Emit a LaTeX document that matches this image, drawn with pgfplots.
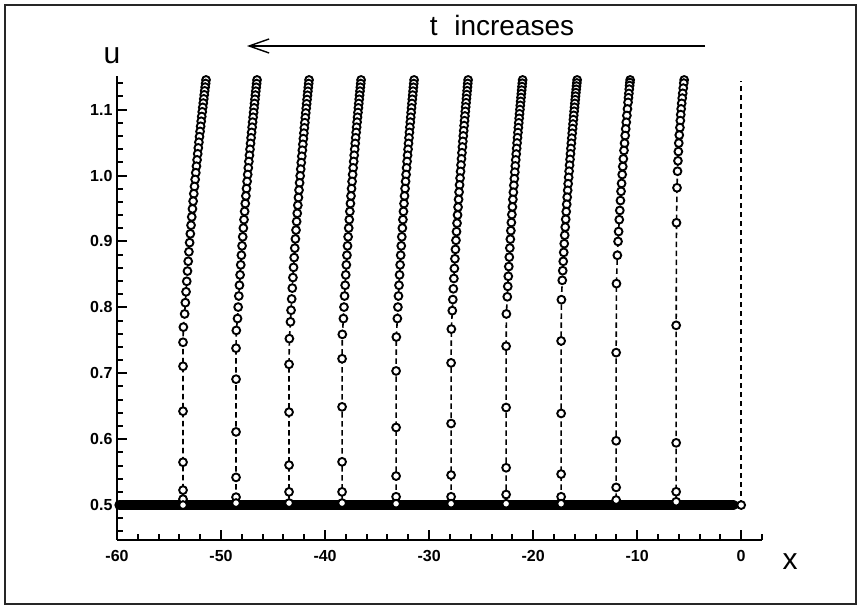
\documentclass[border=0pt]{standalone}
\usepackage{fontspec}
\setmainfont{Liberation Sans}
\usepackage{pgfplots}
\pgfplotsset{compat=1.18}
\usetikzlibrary{arrows.meta}
\pgfplotsset{crv/.style={black, line width=1.6pt, dash pattern=on 5.5pt off 3.5pt,
     mark=*, mark size=3.9pt, mark options={solid, fill=white, draw=black, line width=1.9pt}}}
\begin{document}
\begin{tikzpicture}
\path[use as bounding box] (0pt,0pt) rectangle (860pt,607pt);
\draw[line width=1.4pt, black!85] (5pt,3pt) rectangle (856pt,602pt);
\begin{axis}[
  at={(117pt,67pt)}, anchor=south west,
  scale only axis, width=645pt, height=464pt,
  xmin=-60, xmax=2, ymin=0.447, ymax=1.151,
  clip=false,
  axis x line=bottom, axis y line=left,
  axis line style={line width=2.6pt, -},
  xtick pos=bottom, ytick pos=left,
  xtick align=inside, ytick align=inside,
  major tick length=10pt, minor tick length=5.5pt,
  every tick/.style={black, line width=2pt},
  xtick={-60,-50,-40,-30,-20,-10,0},
  xticklabels={-60,-50,-40,-30,-20,-10,0},
  minor xtick={-58,-56,-54,-52,-48,-46,-44,-42,-38,-36,-34,-32,-28,-26,-24,-22,-18,-16,-14,-12,-8,-6,-4,-2,2},
  ytick={0.5,0.6,0.7,0.8,0.9,1.0,1.1},
  yticklabels={0.5,0.6,0.7,0.8,0.9,1.0,1.1},
  minor ytick={0.46,0.48,0.52,0.54,0.56,0.58,0.62,0.64,0.66,0.68,0.72,0.74,0.76,0.78,0.82,0.84,0.86,0.88,0.92,0.94,0.96,0.98,1.02,1.04,1.06,1.08,1.12,1.14},
  /pgf/number format/assume math mode=true,
  ticklabel style={font=\fontsize{16}{16}\selectfont\bfseries},
  xticklabel style={yshift=-7pt},
  yticklabel style={xshift=-1pt},
]
% band along u = 0.5
\addplot[black, solid, line width=9.5pt, line cap=round, mark=none] coordinates {(-59.8,0.5) (-0.7,0.5)};
% curve 1
\addplot[crv] coordinates {(-51.442,1.145) (-51.483,1.1396) (-51.526,1.1341) (-51.570,1.1284) (-51.614,1.1224) (-51.660,1.1163) (-51.707,1.1099) (-51.756,1.1034) (-51.805,1.0966) (-51.856,1.0895) (-51.907,1.0823) (-51.960,1.0747) (-52.014,1.0669) (-52.070,1.0589) (-52.126,1.0505) (-52.184,1.0419) (-52.242,1.0329) (-52.302,1.0237) (-52.363,1.0141) (-52.425,1.0042) (-52.488,0.9940) (-52.551,0.9834) (-52.616,0.9724) (-52.682,0.9611) (-52.748,0.9494) (-52.815,0.9372) (-52.883,0.9246) (-52.951,0.9116) (-53.020,0.8982) (-53.088,0.8843) (-53.157,0.8699) (-53.226,0.8550) (-53.295,0.8395) (-53.363,0.8236) (-53.431,0.8071) (-53.497,0.7900) (-53.62,0.770) (-53.654,0.747) (-53.654,0.7106) (-53.654,0.6424) (-53.654,0.565) (-53.654,0.5227) (-53.654,0.509) (-53.654,0.500)};
% curve 2
\addplot[crv] coordinates {(-46.539,1.145) (-46.577,1.1395) (-46.616,1.1339) (-46.656,1.1280) (-46.696,1.1220) (-46.738,1.1157) (-46.781,1.1093) (-46.825,1.1026) (-46.870,1.0956) (-46.916,1.0884) (-46.964,1.0810) (-47.012,1.0733) (-47.061,1.0654) (-47.112,1.0572) (-47.163,1.0487) (-47.216,1.0398) (-47.269,1.0307) (-47.324,1.0213) (-47.379,1.0116) (-47.436,1.0015) (-47.493,0.9910) (-47.552,0.9802) (-47.611,0.9690) (-47.671,0.9575) (-47.731,0.9455) (-47.792,0.9331) (-47.854,0.9203) (-47.916,0.9070) (-47.979,0.8933) (-48.042,0.8791) (-48.105,0.8644) (-48.167,0.8492) (-48.230,0.8335) (-48.292,0.8172) (-48.354,0.8004) (-48.415,0.7830) (-48.53,0.765) (-48.558,0.738) (-48.558,0.691) (-48.558,0.611) (-48.558,0.542) (-48.558,0.512) (-48.558,0.503)};
% curve 3
\addplot[crv] coordinates {(-41.539,1.145) (-41.575,1.1395) (-41.612,1.1337) (-41.650,1.1278) (-41.689,1.1217) (-41.729,1.1153) (-41.770,1.1088) (-41.812,1.1020) (-41.855,1.0949) (-41.899,1.0877) (-41.944,1.0801) (-41.990,1.0723) (-42.037,1.0643) (-42.085,1.0559) (-42.134,1.0473) (-42.184,1.0384) (-42.235,1.0292) (-42.287,1.0196) (-42.340,1.0097) (-42.393,0.9995) (-42.448,0.9889) (-42.504,0.9779) (-42.560,0.9666) (-42.617,0.9549) (-42.675,0.9427) (-42.733,0.9302) (-42.792,0.9172) (-42.851,0.9038) (-42.910,0.8898) (-42.970,0.8755) (-43.030,0.8606) (-43.090,0.8452) (-43.150,0.8292) (-43.209,0.8127) (-43.268,0.7956) (-43.326,0.7780) (-43.43,0.7525) (-43.462,0.7136) (-43.462,0.641) (-43.462,0.5606) (-43.462,0.520) (-43.462,0.503)};
% curve 4
\addplot[crv] coordinates {(-36.538,1.145) (-36.572,1.1395) (-36.607,1.1339) (-36.643,1.1280) (-36.680,1.1220) (-36.718,1.1157) (-36.757,1.1093) (-36.797,1.1026) (-36.838,1.0956) (-36.880,1.0884) (-36.922,1.0810) (-36.966,1.0733) (-37.011,1.0654) (-37.056,1.0572) (-37.103,1.0487) (-37.150,1.0398) (-37.199,1.0307) (-37.248,1.0213) (-37.299,1.0116) (-37.350,1.0015) (-37.402,0.9910) (-37.454,0.9802) (-37.508,0.9690) (-37.562,0.9575) (-37.617,0.9455) (-37.672,0.9331) (-37.728,0.9203) (-37.784,0.9070) (-37.841,0.8933) (-37.898,0.8791) (-37.955,0.8644) (-38.012,0.8492) (-38.068,0.8335) (-38.125,0.8172) (-38.181,0.8004) (-38.236,0.7830) (-38.34,0.759) (-38.365,0.722) (-38.365,0.649) (-38.365,0.5656) (-38.365,0.520) (-38.365,0.503)};
% curve 5
\addplot[crv] coordinates {(-31.442,1.145) (-31.474,1.1395) (-31.508,1.1339) (-31.542,1.1280) (-31.577,1.1220) (-31.613,1.1157) (-31.650,1.1093) (-31.687,1.1026) (-31.726,1.0956) (-31.766,1.0884) (-31.806,1.0810) (-31.848,1.0733) (-31.890,1.0654) (-31.933,1.0572) (-31.977,1.0487) (-32.022,1.0398) (-32.068,1.0307) (-32.115,1.0213) (-32.163,1.0116) (-32.211,1.0015) (-32.260,0.9910) (-32.310,0.9802) (-32.361,0.9690) (-32.412,0.9575) (-32.464,0.9455) (-32.517,0.9331) (-32.570,0.9203) (-32.623,0.9070) (-32.676,0.8933) (-32.730,0.8791) (-32.784,0.8644) (-32.838,0.8492) (-32.892,0.8335) (-32.945,0.8172) (-32.998,0.8004) (-33.050,0.7830) (-33.15,0.755) (-33.173,0.7035) (-33.173,0.6177) (-33.173,0.544) (-33.173,0.5126) (-33.173,0.502)};
% curve 6
\addplot[crv] coordinates {(-26.250,1.145) (-26.281,1.1397) (-26.312,1.1343) (-26.344,1.1286) (-26.377,1.1228) (-26.411,1.1167) (-26.446,1.1104) (-26.482,1.1040) (-26.518,1.0973) (-26.556,1.0903) (-26.594,1.0831) (-26.633,1.0757) (-26.673,1.0680) (-26.714,1.0601) (-26.756,1.0518) (-26.798,1.0433) (-26.842,1.0345) (-26.886,1.0254) (-26.931,1.0160) (-26.976,1.0062) (-27.023,0.9961) (-27.070,0.9857) (-27.118,0.9749) (-27.166,0.9637) (-27.215,0.9521) (-27.265,0.9401) (-27.315,0.9277) (-27.365,0.9149) (-27.416,0.9017) (-27.467,0.8879) (-27.518,0.8737) (-27.569,0.8590) (-27.619,0.8438) (-27.670,0.8281) (-27.720,0.8118) (-27.769,0.7950) (-27.86,0.767) (-27.885,0.7157) (-27.885,0.6237) (-27.885,0.5455) (-27.885,0.5126) (-27.885,0.502)};
% curve 7
\addplot[crv] coordinates {(-21.009,1.145) (-21.039,1.1400) (-21.069,1.1349) (-21.101,1.1296) (-21.133,1.1241) (-21.166,1.1184) (-21.199,1.1125) (-21.234,1.1064) (-21.269,1.1001) (-21.306,1.0936) (-21.343,1.0868) (-21.381,1.0799) (-21.420,1.0726) (-21.459,1.0652) (-21.500,1.0574) (-21.541,1.0494) (-21.583,1.0411) (-21.626,1.0326) (-21.670,1.0237) (-21.714,1.0145) (-21.759,1.0051) (-21.805,0.9952) (-21.851,0.9851) (-21.899,0.9746) (-21.946,0.9637) (-21.994,0.9524) (-22.043,0.9408) (-22.092,0.9287) (-22.141,0.9163) (-22.190,0.9034) (-22.240,0.8900) (-22.289,0.8762) (-22.338,0.8619) (-22.387,0.8471) (-22.436,0.8318) (-22.484,0.8160) (-22.57,0.790) (-22.596,0.741) (-22.596,0.648) (-22.596,0.5566) (-22.596,0.516) (-22.596,0.502)};
% curve 8
\addplot[crv] coordinates {(-15.770,1.145) (-15.799,1.1404) (-15.828,1.1357) (-15.859,1.1308) (-15.890,1.1257) (-15.922,1.1204) (-15.955,1.1150) (-15.988,1.1094) (-16.022,1.1035) (-16.058,1.0975) (-16.094,1.0913) (-16.130,1.0848) (-16.168,1.0781) (-16.206,1.0712) (-16.246,1.0641) (-16.286,1.0567) (-16.326,1.0490) (-16.368,1.0411) (-16.410,1.0329) (-16.453,1.0245) (-16.497,1.0157) (-16.541,1.0066) (-16.586,0.9972) (-16.632,0.9875) (-16.678,0.9775) (-16.725,0.9671) (-16.772,0.9563) (-16.819,0.9452) (-16.867,0.9336) (-16.915,0.9217) (-16.963,0.9094) (-17.010,0.8966) (-17.058,0.8834) (-17.106,0.8698) (-17.153,0.8556) (-17.199,0.8410) (-17.28,0.8116) (-17.308,0.749) (-17.308,0.639) (-17.308,0.547) (-17.308,0.5126) (-17.308,0.502)};
% curve 9
\addplot[crv] coordinates {(-10.673,1.145) (-10.698,1.141) (-10.725,1.1365) (-10.758,1.131) (-10.797,1.1245) (-10.835,1.118) (-10.876,1.111) (-10.933,1.101) (-10.989,1.091) (-11.045,1.0808) (-11.099,1.0707) (-11.152,1.0606) (-11.211,1.049) (-11.266,1.038) (-11.328,1.0253) (-11.383,1.0136) (-11.438,1.0015) (-11.498,0.988) (-11.550,0.976) (-11.607,0.962) (-11.667,0.947) (-11.720,0.933) (-11.785,0.915) (-11.837,0.900) (-11.904,0.879) (-11.99,0.836) (-12.019,0.7313) (-12.019,0.5975) (-12.019,0.5268) (-12.019,0.5076)};
% curve 10
\addplot[crv] coordinates {(-5.481,1.145) (-5.52,1.1402) (-5.57,1.1326) (-5.62,1.1247) (-5.67,1.1174) (-5.72,1.1095) (-5.77,1.1011) (-5.81,1.0924) (-5.85,1.0833) (-5.89,1.0727) (-5.95,1.0614) (-6.00,1.0492) (-6.04,1.0364) (-6.08,1.0223) (-6.12,1.0065) (-6.17,0.9814) (-6.22,0.9283) (-6.25,0.7727) (-6.25,0.5944) (-6.25,0.5202) (-6.25,0.505)};
% initial step at x = 0
\addplot[crv, mark=none] coordinates {(0,0.5) (0,1.143)};
\addplot[crv, only marks] coordinates {(0,0.5)};
\end{axis}
\draw[line width=1.4pt, -{Straight Barb[length=20pt,width=14pt,line width=1.4pt]}] (705pt,561pt) -- (247pt,561pt);
\node[anchor=base, font=\fontsize{28}{28}\selectfont, inner sep=0pt] at (502pt,571pt) {t\hspace{0.6em}increases};
\node[font=\fontsize{30}{30}\selectfont, inner sep=0pt] at (112pt,551pt) {u};
\node[font=\fontsize{30}{30}\selectfont, inner sep=0pt] at (790pt,45pt) {x};
\end{tikzpicture}
\end{document}
